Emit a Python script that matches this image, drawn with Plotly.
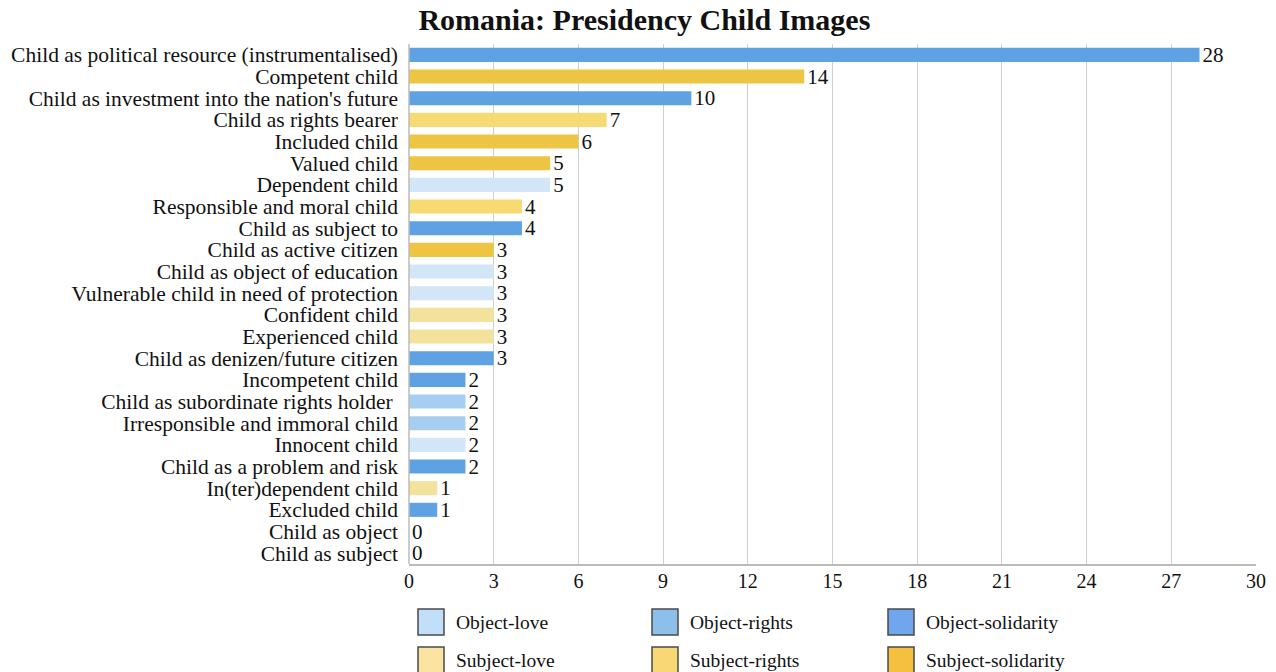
import plotly.graph_objects as go

# Child image categories, top to bottom, with counts and their type group
categories = [
    "Child as political resource (instrumentalised)",
    "Competent child",
    "Child as investment into the nation's future",
    "Child as rights bearer",
    "Included child",
    "Valued child",
    "Dependent child",
    "Responsible and moral child",
    "Child as subject to",
    "Child as active citizen",
    "Child as object of education",
    "Vulnerable child in need of protection",
    "Confident child",
    "Experienced child",
    "Child as denizen/future citizen",
    "Incompetent child",
    "Child as subordinate rights holder ",
    "Irresponsible and immoral child",
    "Innocent child",
    "Child as a problem and risk",
    "In(ter)dependent child",
    "Excluded child",
    "Child as object",
    "Child as subject",
]
counts = [28, 14, 10, 7, 6, 5, 5, 4, 4, 3, 3, 3, 3, 3, 3, 2, 2, 2, 2, 2, 1, 1, 0, 0]
groups = [
    "Object-solidarity", "Subject-solidarity", "Object-solidarity", "Subject-rights",
    "Subject-solidarity", "Subject-solidarity", "Object-love", "Subject-rights",
    "Object-solidarity", "Subject-solidarity", "Object-love", "Object-love",
    "Subject-love", "Subject-love", "Object-solidarity", "Object-solidarity",
    "Object-rights", "Object-rights", "Object-love", "Object-solidarity",
    "Subject-love", "Object-solidarity", "Object-love", "Subject-love",
]

legend_names = ["Object-love", "Object-rights", "Object-solidarity",
                "Subject-love", "Subject-rights", "Subject-solidarity"]
bar_colors = {
    "Object-love": "#D3E6F8",
    "Object-rights": "#A6CEF1",
    "Object-solidarity": "#5FA2E4",
    "Subject-love": "#F3E29C",
    "Subject-rights": "#F6DA72",
    "Subject-solidarity": "#EEC443",
}
swatch_colors = {
    "Object-love": "#C2DFF9",
    "Object-rights": "#8CC0EA",
    "Object-solidarity": "#70A6EE",
    "Subject-love": "#FBE3A2",
    "Subject-rights": "#F8D774",
    "Subject-solidarity": "#F5BF40",
}

x_ticks = list(range(0, 31, 3))

SERIF = "Liberation Serif, Times New Roman, serif"

fig = go.Figure(
    go.Bar(
        x=counts,
        y=categories,
        orientation="h",
        marker=dict(color=[bar_colors[g] for g in groups], line=dict(width=0)),
        text=[str(c) for c in counts],
        textposition="outside",
        constraintext="none",
        textfont=dict(family=SERIF, size=21, color="#111111"),
        cliponaxis=False,
        showlegend=False,
    )
)

# Plot area in pixels (for placing the legend below it)
W, H = 1276, 672
ML, MR, MT, MB = 409, 20, 44, 108
plot_w = W - ML - MR
plot_h = H - MT - MB


def px_x(px):
    return (px - ML) / plot_w


def px_y(py):
    return (H - MB - py) / plot_h


# Legend laid out as a 3 x 2 grid of framed swatches
col_x = [418, 652, 888]
row_y = [609, 647]
shapes = []
annotations = []
for i, name in enumerate(legend_names):
    cx = col_x[i % 3]
    ry = row_y[i // 3]
    shapes.append(dict(
        type="rect", xref="paper", yref="paper",
        x0=px_x(cx), x1=px_x(cx + 26), y0=px_y(ry + 26), y1=px_y(ry),
        fillcolor=swatch_colors[name], line=dict(color="#4a4a4a", width=1.5),
    ))
    annotations.append(dict(
        xref="paper", yref="paper", x=px_x(cx + 36), y=px_y(ry + 13),
        text=name, showarrow=False, xanchor="left", yanchor="middle",
        font=dict(family=SERIF, size=19.5, color="#111111"),
    ))

fig.update_layout(
    width=W, height=H,
    margin=dict(l=ML, r=MR, t=MT, b=MB, autoexpand=False),
    paper_bgcolor="white", plot_bgcolor="white",
    title=dict(
        text="<b>Romania: Presidency Child Images</b>",
        x=0.505, xanchor="center", y=0.971, yanchor="middle",
        font=dict(family=SERIF, size=30, color="#111111"),
    ),
    bargap=0.35,
    xaxis=dict(
        range=[0, 30], tickvals=x_ticks, ticktext=[str(t) for t in x_ticks],
        showgrid=True, gridcolor="#CFCFCF", gridwidth=1,
        zeroline=False, showline=True, linecolor="#BBBBBB", linewidth=1.5,
        ticks="", tickfont=dict(family=SERIF, size=20, color="#111111"),
        ticklabelstandoff=-2, automargin=False, fixedrange=True,
    ),
    yaxis=dict(
        categoryorder="array", categoryarray=categories, autorange="reversed",
        tickmode="array", tickvals=categories, ticktext=categories,
        showgrid=False, zeroline=False, showline=False, ticks="",
        tickfont=dict(family=SERIF, size=21.5, color="#111111"),
        ticklabelstandoff=10, automargin=False, fixedrange=True,
    ),
    shapes=shapes + [dict(
        type="line", xref="paper", yref="paper", x0=0, x1=0, y0=0, y1=1,
        line=dict(color="#BBBBBB", width=1.5),
    )],
    annotations=annotations,
)

fig.write_html("out.html")
